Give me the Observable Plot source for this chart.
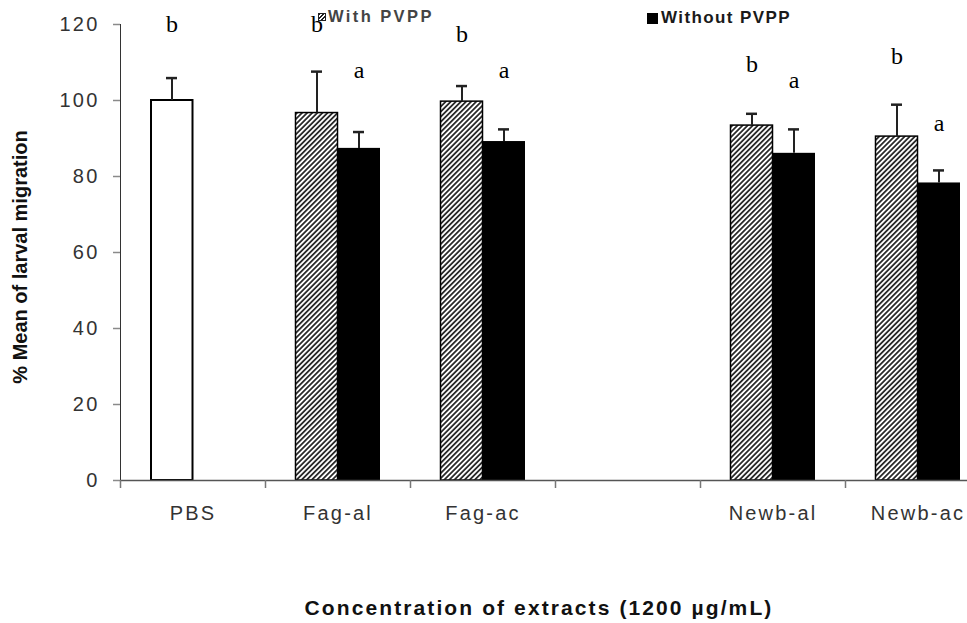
<!DOCTYPE html>
<html>
<head>
<meta charset="utf-8">
<script src="https://cdn.jsdelivr.net/npm/d3@7"></script>
<script src="https://cdn.jsdelivr.net/npm/@observablehq/plot@0.6"></script>
<style>
  html, body { margin: 0; padding: 0; background: #fff; overflow: hidden; }
  #wrap { position: relative; width: 967px; height: 623px; overflow: hidden; font-family: "Liberation Sans", Arial, sans-serif; }
  #wrap svg g[aria-label^="y-axis"] line, #wrap svg g[aria-label^="y-axis"] path { stroke: #8a8a8a; stroke-width: 1.5px; }
  #wrap svg g[aria-label^="x-axis"] text, #wrap svg g[aria-label^="y-axis"] text { letter-spacing: 2.2px; fill: #333; }
  .overlay { position: absolute; white-space: nowrap; }
  .legend-item { position: absolute; display: flex; align-items: center; font-weight: bold; }
  .sw-hatch { display: inline-block; width: 6px; height: 6px; border: 1px solid #222;
    background: repeating-linear-gradient(-45deg, #fff 0 1.5px, #222 1.5px 3px); margin-right: 2px; }
  .sw-black { display: inline-block; width: 11px; height: 11px; background: #000; margin-right: 3px; }
  #xtitle { left: 239px; width: 600px; top: 597px; text-align: center; font-weight: bold; font-size: 21px; line-height: 21px; letter-spacing: 2.1px; color: #111; }
  #ytitle { left: -130px; top: 247px; width: 300px; height: 20px; text-align: center; font-weight: bold; font-size: 20px; line-height: 20px; color: #111; transform: rotate(-90deg); transform-origin: 50% 50%; }
</style>
</head>
<body>
<div id="wrap"></div>
<script>
// ---- data ----
const categories = ["PBS", "Fag-al", "Fag-ac", "", "Newb-al", "Newb-ac"];
const controlNames = ["PBS"];
const controlMean = [100];
const controlErr = [5.9];
const controlLetters = ["b"];
const controlLetterY = [118];

const extracts = ["Fag-al", "Fag-ac", "Newb-al", "Newb-ac"];
const withPVPP = [96.7, 99.7, 93.4, 90.5];
const withPVPPErr = [10.9, 4.1, 3.1, 8.4];
const withLetters = ["b", "b", "b", "b"];
const withLetterY = [118, 115.3, 107.4, 109.5];

const withoutPVPP = [87.4, 89.2, 86.1, 78.3];
const withoutPVPPErr = [4.3, 3.2, 6.3, 3.3];
const withoutLetters = ["a", "a", "a", "a"];
const withoutLetterY = [105.8, 105.8, 103.4, 92.1];

const yTicks = [0, 20, 40, 60, 80, 100, 120];
const legendLabels = ["With PVPP", "Without PVPP"];
const xTitle = "Concentration of extracts (1200 µg/mL)";
const yTitle = "% Mean of larval migration";

// ---- tables built from the arrays ----
const rows = (cats, means, errs, letters, ly) =>
  cats.map((c, i) => ({cat: c, mean: means[i], top: means[i] + errs[i], letter: letters[i], ly: ly[i]}));
const controlRows = rows(controlNames, controlMean, controlErr, controlLetters, controlLetterY);
const withRows = rows(extracts, withPVPP, withPVPPErr, withLetters, withLetterY);
const withoutRows = rows(extracts, withoutPVPP, withoutPVPPErr, withoutLetters, withoutLetterY);
const leftRows = controlRows.concat(withRows);

const defs = () => {
  const g = d3.create("svg:defs");
  const p = g.append("pattern").attr("id", "hatch").attr("patternUnits", "userSpaceOnUse")
    .attr("width", 3.6).attr("height", 3.6).attr("patternTransform", "rotate(45)");
  p.append("rect").attr("width", 3.6).attr("height", 3.6).attr("fill", "white");
  p.append("line").attr("x1", 1.8).attr("y1", 0).attr("x2", 1.8).attr("y2", 3.6)
    .attr("stroke", "black").attr("stroke-width", 1.5);
  return g.node();
};

const serif = "'Liberation Serif', 'Times New Roman', serif";

const plot = Plot.plot({
  width: 967,
  height: 623,
  marginLeft: 120,
  marginRight: 0,
  marginTop: 24,
  marginBottom: 143,
  style: {fontFamily: "'Liberation Sans', Arial, sans-serif", fontSize: "20px", color: "#333", background: "white", overflow: "hidden"},
  x: {domain: categories, range: [120, 990], padding: 0, label: null, tickSize: 0, tickPadding: 25},
  y: {domain: [0, 120], ticks: yTicks, tickSize: 7, tickPadding: 14, line: true, label: null},
  marks: [
    defs,
    // bars
    Plot.barY(controlRows, {x: "cat", y: "mean", fill: "white", stroke: "black", strokeWidth: 2, insetLeft: 31, insetRight: 72.5}),
    Plot.barY(withRows, {x: "cat", y: "mean", fill: "url(#hatch)", stroke: "black", strokeWidth: 1.5, insetLeft: 30.5, insetRight: 72.5}),
    Plot.barY(withoutRows, {x: "cat", y: "mean", fill: "black", insetLeft: 72.5, insetRight: 30}),
    // x baseline and category boundary ticks
    Plot.ruleY([0], {stroke: "#555", strokeWidth: 1.5}),
    Plot.ruleX(categories, {x: d => d, y1: 0, y2: 0, insetBottom: -8, dx: -72.5, stroke: "#777", strokeWidth: 1.5}),
    // error bars (upper only)
    Plot.ruleX(leftRows, {x: "cat", y1: "mean", y2: "top", dx: -21, stroke: "#222", strokeWidth: 2}),
    Plot.tickY(leftRows, {x: "cat", y: "top", insetLeft: 46, insetRight: 88, stroke: "#222", strokeWidth: 2.5}),
    Plot.ruleX(withoutRows, {x: "cat", y1: "mean", y2: "top", dx: 21, stroke: "#222", strokeWidth: 2}),
    Plot.tickY(withoutRows, {x: "cat", y: "top", insetLeft: 88, insetRight: 46, stroke: "#222", strokeWidth: 2.5}),
    // significance letters
    Plot.text(leftRows, {x: "cat", y: "ly", text: "letter", dx: -21, lineAnchor: "bottom", fontFamily: serif, fontSize: 24, fill: "black"}),
    Plot.text(withoutRows, {x: "cat", y: "ly", text: "letter", dx: 21, lineAnchor: "bottom", fontFamily: serif, fontSize: 24, fill: "black"})
  ]
});

const wrap = document.getElementById("wrap");
wrap.appendChild(plot);

// legend
const leg1 = document.createElement("div");
leg1.className = "legend-item";
leg1.style.cssText = "left:318px;top:7px;font-size:16.5px;letter-spacing:2.4px;color:#444;";
leg1.innerHTML = '<span class="sw-hatch"></span><span></span>';
leg1.lastChild.textContent = legendLabels[0];
wrap.appendChild(leg1);

const leg2 = document.createElement("div");
leg2.className = "legend-item";
leg2.style.cssText = "left:647px;top:8px;font-size:17px;letter-spacing:1.4px;color:#1a1a1a;";
leg2.innerHTML = '<span class="sw-black"></span><span></span>';
leg2.lastChild.textContent = legendLabels[1];
wrap.appendChild(leg2);

const xt = document.createElement("div");
xt.className = "overlay"; xt.id = "xtitle"; xt.textContent = xTitle;
wrap.appendChild(xt);
const yt = document.createElement("div");
yt.className = "overlay"; yt.id = "ytitle"; yt.textContent = yTitle;
wrap.appendChild(yt);
</script>
</body>
</html>
